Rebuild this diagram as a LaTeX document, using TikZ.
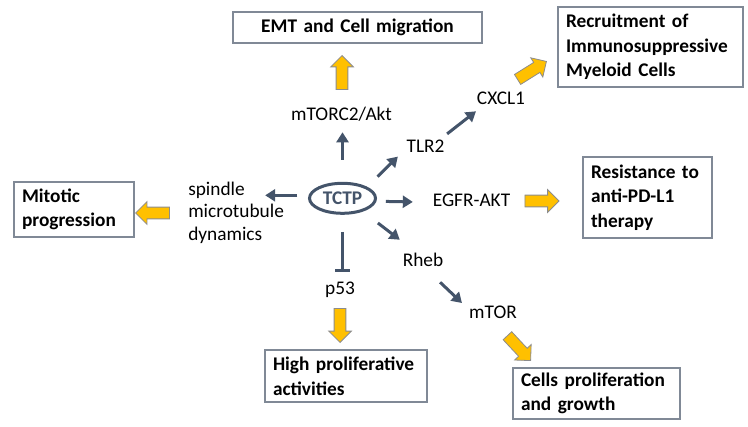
\documentclass[tikz,border=0pt]{standalone}
\usepackage{fontspec}
\setmainfont{Carlito}
\usetikzlibrary{arrows.meta,shapes.geometric,shapes.arrows}

\definecolor{slate}{RGB}{68,84,106}
\definecolor{gold}{RGB}{255,192,0}
\definecolor{boxline}{RGB}{128,137,150}
\definecolor{arrowline}{RGB}{140,140,140}

\newcommand{\lblfont}{\fontsize{14.5}{16.9}\selectfont}
\newcommand{\boxfont}{\fontsize{14.5}{18.5}\selectfont\bfseries}

\tikzset{
  lbl/.style={font=\lblfont, inner sep=0pt, text height=9.5pt, text depth=2.5pt},
  outbox/.style={draw=boxline, line width=1pt, inner xsep=6pt, inner ysep=2pt, align=left, font=\boxfont},
  conn/.style={draw=slate, line width=2.25pt, -{Triangle[length=7.5pt,width=9pt]}},
  blockar/.style={single arrow, draw=arrowline, fill=gold, line width=0.6pt, inner xsep=0pt, inner ysep=4.1pt,
    minimum height=25.5pt, single arrow head extend=4.1pt},
}

\begin{document}
\begin{tikzpicture}[x=0.75pt,y=-0.75pt]
		\useasboundingbox (0,0) rectangle (748,427);
		
		\node[ellipse, draw=slate, line width=2.25pt, minimum width=49.5pt, minimum height=22.5pt,
		inner sep=0pt, font=\lblfont\bfseries, text=slate] (tctp) at (342.5,198.3) {TCTP};
		
		\node[lbl] (mtorc) at (341.5,116.3) {mTORC2/Akt};
		\node[lbl] (tlr2) at (425.5,148.3) {TLR2};
		\node[lbl] (cxcl1) at (501,100.3) {CXCL1};
		\node[lbl] (egfr) at (471.5,202.3) {EGFR-AKT};
		\node[lbl] (rheb) at (423,262.3) {Rheb};
		\node[lbl] (mtor) at (493,314.3) {mTOR};
		\node[lbl] (p53) at (340,290.3) {p53};
		\node[font=\lblfont, inner sep=0pt, align=left, anchor=west] (spindle) at (188,212.8) {spindle\\microtubule\\dynamics};
		
		% outcomes
		\node[outbox, align=center, text width=174.75pt, minimum height=23.25pt] (emt) at (357.5,27.5) {EMT and Cell migration};
		\node[outbox, text width=126.75pt, minimum height=60pt] (recruit) at (650.5,47) {Recruitment of\\Immunosuppressive\\Myeloid Cells};
		\node[outbox, text width=84.75pt, minimum height=60.75pt] (resist) at (647.5,197.5) {Resistance to\\anti-PD-L1\\therapy};
		\node[outbox, text width=113.25pt, minimum height=38.25pt] (growth) at (596.5,393.5) {Cells proliferation\\and growth};
		\node[outbox, text width=109.5pt, minimum height=39pt] (prolif) at (346,376) {High proliferative\\activities};
		\node[outbox, text width=78pt, minimum height=41.25pt] (mitotic) at (74,209.5) {Mitotic\\progression};
		
		\draw[conn, shorten <=16.35pt, shorten >=5.8pt] (tctp.north) -- (tctp.north |- mtorc.south);
		\draw[conn, shorten <=10.9pt, shorten >=8.9pt] (tctp.25) -- (tlr2.west);
		\draw[conn, shorten <=7.5pt, shorten >=3.3pt] (tlr2.31) -- (cxcl1.201);
		\draw[conn, shorten <=7pt, shorten >=14.8pt] (tctp.-5) -- (egfr.west);
		\draw[conn, shorten <=14.1pt, shorten >=17.6pt] (tctp.-33) -- (rheb.119);
		\draw[conn, shorten <=12.75pt, shorten >=7.2pt] (rheb.-60) -- (mtor.169);
		\draw[conn, shorten <=8.4pt, shorten >=-14.3pt] (tctp.175) -- (tctp.175 -| spindle.east);
		\draw[draw=slate, line width=2.25pt, -{Bar[width=11pt]}, shorten <=12.9pt, shorten >=7.7pt] (tctp.south) -- (tctp.south |- p53.north);
		
		% yellow block arrows
		\node[blockar, rotate=90] (up) at (342,75.5) {};
		\node[blockar, rotate=32] (toimm) at (529.5,72) {};
		\node[blockar] (tores) at (539,201) {};
		\node[blockar, rotate=180] (tomit) at (155.5,213) {};
		\node[blockar, rotate=-90] (toprol) at (340,322.5) {};
		\node[blockar, rotate=-47] (togrow) at (517,346) {};
	\end{tikzpicture}
\end{document}
